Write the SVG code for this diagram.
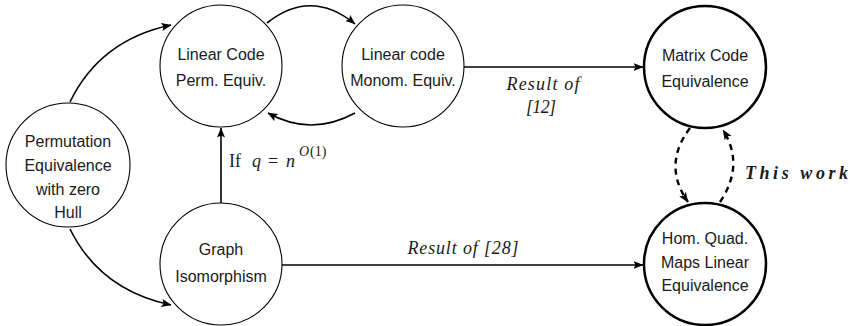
<svg xmlns="http://www.w3.org/2000/svg" width="851" height="326" viewBox="0 0 851 326">
<style>
.node circle{fill:#fff;stroke:#000;stroke-width:1.1}
.node.thick circle{stroke-width:2.5}
.node text{font-family:"Liberation Sans",Arial,sans-serif;font-size:16px;text-anchor:middle;fill:#1a1a1a}
.edge{fill:none;stroke:#000;stroke-width:1.6}
.dash{fill:none;stroke:#000;stroke-width:2.4;stroke-dasharray:6 5}
.lbl{font-family:"Liberation Serif","Times New Roman",serif;font-size:18px;fill:#1a1a1a}
.it{font-style:italic}
.bi{font-style:italic;font-weight:bold}
</style>
<defs>
<marker id="ah" viewBox="0 0 10 8" refX="9.5" refY="4" markerWidth="10" markerHeight="8" orient="auto" markerUnits="userSpaceOnUse">
<path d="M0,0 L10,4 L0,8 L2,4 z" fill="#000"/>
</marker>
</defs>
<rect width="851" height="326" fill="#fff"/>
<g id="connectors">
<path class="edge" d="M70,102 Q100,40 171,25" marker-end="url(#ah)"/>
<path class="edge" d="M70,229 Q100,290 171,305" marker-end="url(#ah)"/>
<path class="edge" d="M267,23 Q311,-12 355,24" marker-end="url(#ah)"/>
<path class="edge" d="M355,113 Q311,137 268,113" marker-end="url(#ah)"/>
<path class="edge" d="M221,203 L221,128" marker-end="url(#ah)"/>
<path class="edge" d="M464,67 L643,67" marker-end="url(#ah)"/>
<path class="edge" d="M282,265 L643,265" marker-end="url(#ah)"/>
<path class="dash" d="M690,128 Q662,165 688,202" marker-end="url(#ah)"/>
<path class="dash" d="M720,202 Q745,165 723,130" marker-end="url(#ah)"/>
<text class="lbl" y="167" font-size="19"><tspan x="229">If</tspan><tspan class="it" x="252">q</tspan><tspan x="268">=</tspan><tspan class="it" x="286">n</tspan><tspan class="it" x="299" y="156" font-size="14">O</tspan><tspan x="310" y="156" font-size="14">(1)</tspan></text>
<text class="lbl it" x="543" y="90" text-anchor="middle" textLength="73" lengthAdjust="spacing">Result of</text>
<text class="lbl it" x="541" y="113" text-anchor="middle" textLength="30" lengthAdjust="spacing">[12]</text>
<text class="lbl it" x="463" y="254" text-anchor="middle" textLength="111" lengthAdjust="spacing">Result of [28]</text>
<text class="lbl bi" x="745" y="179" font-size="22" textLength="103" lengthAdjust="spacing">This work</text>
</g>
<g id="n-linear-perm" class="node">
<circle cx="221" cy="66" r="61"/>
<text x="221" y="60">Linear Code</text>
<text x="221" y="86">Perm. Equiv.</text>
</g>
<g id="n-linear-monom" class="node">
<circle cx="403" cy="66" r="61"/>
<text x="403" y="60">Linear code</text>
<text x="403" y="86">Monom. Equiv.</text>
</g>
<g id="n-matrix" class="node thick">
<circle cx="705" cy="67" r="61"/>
<text x="705" y="61">Matrix Code</text>
<text x="705" y="87">Equivalence</text>
</g>
<g id="n-perm-hull" class="node">
<circle cx="68" cy="165" r="62"/>
<text x="68" y="147">Permutation</text>
<text x="68" y="171">Equivalence</text>
<text x="68" y="194.5">with zero</text>
<text x="68" y="218">Hull</text>
</g>
<g id="n-graph" class="node">
<circle cx="221" cy="264" r="61"/>
<text x="221" y="255">Graph</text>
<text x="221" y="282">Isomorphism</text>
</g>
<g id="n-hqm" class="node thick">
<circle cx="705" cy="264" r="61"/>
<text x="705" y="244">Hom. Quad.</text>
<text x="705" y="268">Maps Linear</text>
<text x="705" y="291">Equivalence</text>
</g>
</svg>
